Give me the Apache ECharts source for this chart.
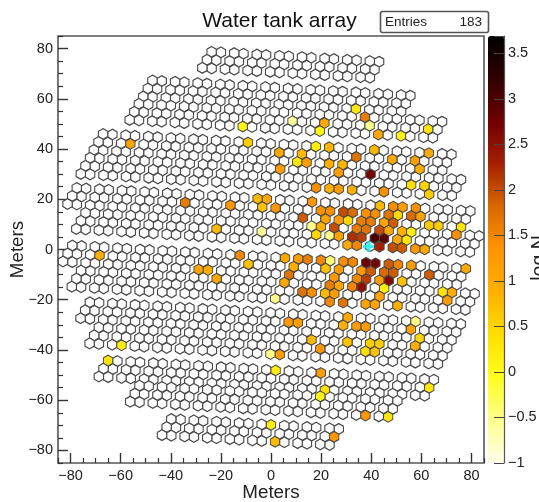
<!DOCTYPE html>
<html><head><meta charset="utf-8">
<script src="https://cdn.jsdelivr.net/npm/echarts@6/dist/echarts.min.js"></script>
<style>html,body{margin:0;padding:0;background:#fff;overflow:hidden}
#c{width:539px;height:502px;filter:blur(0.5px)}</style></head><body><div id="c"></div>
<script>
// Tank array (metres): one entry per row block of clusters
const tierStartX = [-23.7,-47.3,-52.7,-67.0,-72.2,-77.5,-74.0,-79.3,-75.8,-72.3,-68.7,-65.0,-52.5,-39.8];
const tierStartY = [75.4,64.0,54.7,42.7,33.2,21.2,11.3,-1.7,-11.7,-24.3,-34.3,-47.5,-57.5,-70.8];
const tierClusters = [8,12,14,16,17,18,18,18,18,17,16,15,12,8];
const clusterStep = [9.02,-0.53];
const tankOffsets = [[3.705,3.08],[-0.015,3.30],[1.86,-0.11],[-1.86,0.11],[0.015,-3.30],[-3.705,-3.08]];
// Struck tanks: x (m), y (m), log N
const hitReadings = [
[-11.2,48.7,.1],[-9.2,42.5,.6],[-56.1,42.1,1.1],[-34.5,18.2,1.6],[-16.4,17.1,1.3],[-5.8,19.8,.8],[-1.9,19.8,1.0],[-3.9,16.6,.7],[-21.8,7.8,.8],[-3.9,6.8,-.6],
[33.9,56.0,.3],[37.6,52.5,1.6],[39.4,49.3,-.5],[8.7,51.0,-.6],[21.4,50.5,1.0],[19.6,47.3,.05],[42.8,45.5,1.0],[51.9,45.1,.15],[62.6,47.8,.3],
[17.7,41.0,.2],[23.2,40.6,.8],[3.4,38.4,1],[12.3,37.8,.8],[10.6,34.7,.3],[14.3,34.7,1.2],[23.2,34.1,.9],[3.4,32.1,1.2],[34.1,36.8,1.7],[41.1,39.4,.8],[48.3,36.0,1],[57.2,35.3,1.2],[62.6,38.4,1],[59.2,32.1,.9],[28.5,33.7,.8],[26.8,30.6,1.2],[39.4,30.0,2.7],
[17.7,24.9,1.4],[23.2,24.5,.9],[26.8,24.3,1.2],[32.1,23.8,.9],[44.7,23.2,1.4],[55.6,25.9,.4],[60.9,25.4,.5],[62.6,22.2,.6],
[1.5,16.2,1.3],[15.9,18.8,1.3],[12.3,12.5,1.9],[19.4,15.0,1.4],[23.2,15.0,1.4],[21.3,12.0,1.1],[19.4,8.8,.9],[15.9,8.8,-.5],[17.7,5.6,.5],[23.2,5.3,-.5],[26.8,5.2,1.1],[25,8.5,2.0],[28.6,14.5,2.0],[32.2,14.5,1.8],[26.8,11.3,1.2],[30.4,11.3,.5],
[43,17.3,.8],[37.6,14.2,1.4],[41.3,14.1,1.4],[35.7,11.0,1.6],[39.2,10.9,1.6],[34.1,7.8,1.6],[37.5,7.6,1.7],[32.2,4.7,2.2],[35.8,4.7,2.1],[30.4,1.5,1.0],[34.1,1.5,1.5],
[48.1,16.9,1.4],[51.9,16.9,1.2],[46.4,13.5,1.7],[50.1,13.5,.5],[44.7,10.5,1.1],[48.3,10.2,1.9],[43,7.2,2.0],[46.5,7.2,1.1],[41.2,4.0,3.0],[44.8,4.0,2.9],[43.1,.9,2.3],[57.2,16.2,1.4],[55.5,12.9,1.8],[59.2,12.9,1.1],
[52,6.9,.9],[55.6,6.7,.2],[50.1,3.9,1],[53.7,3.6,.3],[48.4,.5,2],[52,.5,1.9],[57.4,.3,1.3],[61,.3,1],[62.7,9.4,.6],[66.3,9.4,.6],[75.2,8.8,.3],[73.5,5.6,1.4],
[5.1,-3.1,1],[10.4,-3.7,1.2],[14.1,-3.7,1.6],[8.6,-6.8,.9],[6.8,-10,1.7],[5,-13,1],[1.4,-19.2,-.5],[12.3,-16.6,1.7],[16,-16.6,1.4],[19.4,-4.1,1.5],[23,-4.1,-.4],[21.3,-7.2,.7],[28.5,-4.5,1.4],[32.2,-4.5,1.5],[26.8,-7.7,1.2],[24.9,-10.9,1.3],[23.2,-14.1,1.6],[26.8,-14.1,1.1],[21.3,-17.3,.8],[24.9,-17.3,1.2],[23.2,-20.4,1.5],[28.5,-21,1.7],
[37.5,-5.3,2.8],[41.2,-5.3,2.7],[35.8,-8.4,1.3],[39.4,-8.4,1.9],[33.9,-11.4,1.5],[37.6,-11.4,2.1],[32.2,-14.6,1.5],[35.8,-14.6,2.5],[43,-12,1.2],[46.5,-12.1,2.6],[44.8,-15,.2],[43,-18.3,1.1],[37.5,-21.4,1.1],[41.2,-21.4,1.1],
[46.5,-5.7,1.9],[50.3,-5.7,1.5],[44.7,-8.8,1.8],[48.3,-8.8,1.9],[55.6,-6.4,1.2],[77.2,-7.3,1],[62.6,-9.7,1.9],[51.9,-12.6,.7],[71.8,-16.6,1],[68.2,-16.6,.3],[69.9,-19.6,1.2],[50,-21.9,.9],
[30.4,-27,1],[28.6,-30.3,.9],[6.9,-29.2,1.3],[10.6,-29.2,1.2],[33.9,-30.7,1.2],[37.6,-30.8,1.2],[57.3,-28.7,-.5],[55.6,-31.9,1.1],[59.2,-35.3,.5],[57.3,-38.5,.9],[16,-36,.8],[19.4,-39.6,1.3],[30.4,-36.9,.7],[39.2,-37.6,.6],[43,-37.6,.6],[37.5,-40.6,.4],[41.1,-40.6,.7],[3.4,-41.7,1.2],[-0.2,-41.7,-.5],
[-68.6,-2.1,.9],[-29,-8,1.1],[-25.3,-8,.9],[-21.8,-11.4,1],[-12.8,-2.1,1.5],[-9.2,-5.7,.7],[-59.7,-38,.2],[-65,-44.2,.3],[0,-70.3,.2],
[1.7,-47.8,.2],[19.6,-48.9,1.2],[21.3,-55.7,.4],[19.4,-58.8,.1],[62.6,-54.6,.3],[37.6,-66.1,1.3],[46.4,-66.8,.3],[25,-75,1.3],[1.5,-77.2,.8]
];
const corePosition = [[38.9,1.2]];
const axisMajorTicks = [-80,-60,-40,-20,0,20,40,60,80];
const axisMinorTicks = [-85,-75,-70,-65,-55,-50,-45,-35,-30,-25,-15,-10,-5,5,10,15,25,30,35,45,50,55,65,70,75,85];
const paletteStops = ['#ffffe8','#ffff90','#ffff20','#ffdf00','#ffb000','#ff9400','#d86a00','#a82000','#700000','#300000','#000000'];

const tanks = [];
tierStartX.forEach((sx,t)=>{
  for(let k=0;k<tierClusters[t];k++){
    const cx=sx+k*clusterStep[0], cy=tierStartY[t]+k*clusterStep[1];
    tankOffsets.forEach(o=>tanks.push({x:cx+o[0],y:cy+o[1],hit:false}));
  }
});
const hitData = hitReadings.map(h=>{
  let best=null,bd=1e9;
  tanks.forEach(tk=>{ if(tk.hit) return; const d=(tk.x-h[0])**2+(tk.y-h[1])**2; if(d<bd){bd=d;best=tk;} });
  if(bd<9){best.hit=true;return [best.x,best.y,h[2]];}
  return [h[0],h[1],h[2]];
});
const idleData = tanks.filter(t=>!t.hit).map(t=>[t.x,t.y]);

const hex='path://M0 -10L8.66 -5L8.66 5L0 10L-8.66 5L-8.66 -5Z';
const plus='path://M-2 -6H2V-2H6V2H2V6H-2V2H-6V-2H-2Z';
const ink='#333333', fnt='"Liberation Sans", Arial, sans-serif';
const fmt=v=>String(v).replace('-','\u2212');
const lab={color:'#222',fontFamily:fnt,fontSize:14.5};
function majorAxis(extra){return Object.assign({type:'value',min:-85,max:85,gridIndex:0,
  axisLine:{show:false,onZero:false},splitLine:{show:false},
  axisTick:{show:true,inside:true,length:10,lineStyle:{color:ink,width:1.4},customValues:axisMajorTicks},
  axisLabel:Object.assign({show:true,margin:5,formatter:fmt,customValues:axisMajorTicks},lab),
  nameLocation:'middle',nameMoveOverlap:false,nameTextStyle:{color:'#222',fontFamily:fnt,fontSize:18.8}},extra);}
function minorAxis(extra){return Object.assign({type:'value',min:-85,max:85,gridIndex:0,
  axisLine:{show:false,onZero:false},splitLine:{show:false},axisLabel:{show:false},
  axisTick:{show:true,inside:true,length:5,lineStyle:{color:ink,width:1.2},customValues:axisMinorTicks}},extra);}

const chart=echarts.init(document.getElementById('c'),null,{renderer:'canvas'});
chart.setOption({
  animation:false,backgroundColor:'#fff',
  title:{text:'Water tank array',left:274.5,textAlign:'center',top:6,textStyle:{fontFamily:fnt,fontWeight:'normal',fontSize:21,color:'#111'}},
  grid:[{left:58,top:36,width:426,height:427,show:true,borderColor:'#555',borderWidth:1.6,backgroundColor:'#fff',z:0,outerBoundsMode:'none',containLabel:false},
        {left:488,top:36,width:16,height:427,show:false,outerBoundsMode:'none',containLabel:false}],
  xAxis:[majorAxis({position:'bottom',name:'Meters',nameGap:20}),minorAxis({position:'bottom'}),
         {gridIndex:1,type:'value',min:0,max:1,show:false}],
  yAxis:[majorAxis({position:'left',name:'Meters',nameGap:31}),minorAxis({position:'left'}),
         {gridIndex:1,type:'value',min:-1,max:3.69,interval:.5,position:'right',z:8,
          axisLine:{show:true,onZero:false,lineStyle:{color:'#555',width:1.2}},splitLine:{show:false},
          axisTick:{show:true,inside:true,length:10,lineStyle:{color:'#444',width:1}},
          axisLabel:Object.assign({formatter:v=>v>3.6?'':fmt(v),margin:4},lab)}],
  visualMap:{type:'continuous',min:-1,max:3.69,dimension:2,seriesIndex:1,calculable:false,realtime:false,
    left:488,top:36,itemWidth:16,itemHeight:427,padding:0,showLabel:false,text:null,hoverLink:false,
    inRange:{color:paletteStops},textStyle:{fontSize:0}},
  series:[
    {type:'scatter',name:'idle',xAxisIndex:0,yAxisIndex:0,data:idleData,symbol:hex,symbolSize:[9.3,10.7],silent:true,
      itemStyle:{color:'#fff',borderColor:'#4a4a4a',borderWidth:1.2,opacity:1},z:2},
    {type:'scatter',name:'hits',xAxisIndex:0,yAxisIndex:0,data:hitData,symbol:hex,symbolSize:[9.3,10.7],silent:true,
      itemStyle:{borderColor:'#4a4a4a',borderWidth:1,opacity:1},z:3},
    {type:'scatter',name:'core',xAxisIndex:0,yAxisIndex:0,data:corePosition,symbol:plus,symbolSize:11,silent:true,
      itemStyle:{color:'#10e8ee'},z:4}
  ],
  graphic:[
    {type:'rect',z:20,shape:{x:380.5,y:11.5,width:108,height:21,r:2},style:{fill:'#fff',stroke:'#555',lineWidth:1.6}},
    {type:'text',z:21,x:385,y:22,style:{text:'Entries',fontFamily:fnt,fontSize:13.5,fill:'#222',verticalAlign:'middle'}},
    {type:'text',z:21,x:482,y:22,style:{text:'183',fontFamily:fnt,fontSize:13.5,fill:'#222',align:'right',verticalAlign:'middle'}},
    {type:'text',z:21,x:540,y:258,rotation:Math.PI/2,style:{text:'log N',fontFamily:fnt,fontSize:19.5,fill:'#222',align:'center',verticalAlign:'middle'}}
  ]
});
</script></body></html>
